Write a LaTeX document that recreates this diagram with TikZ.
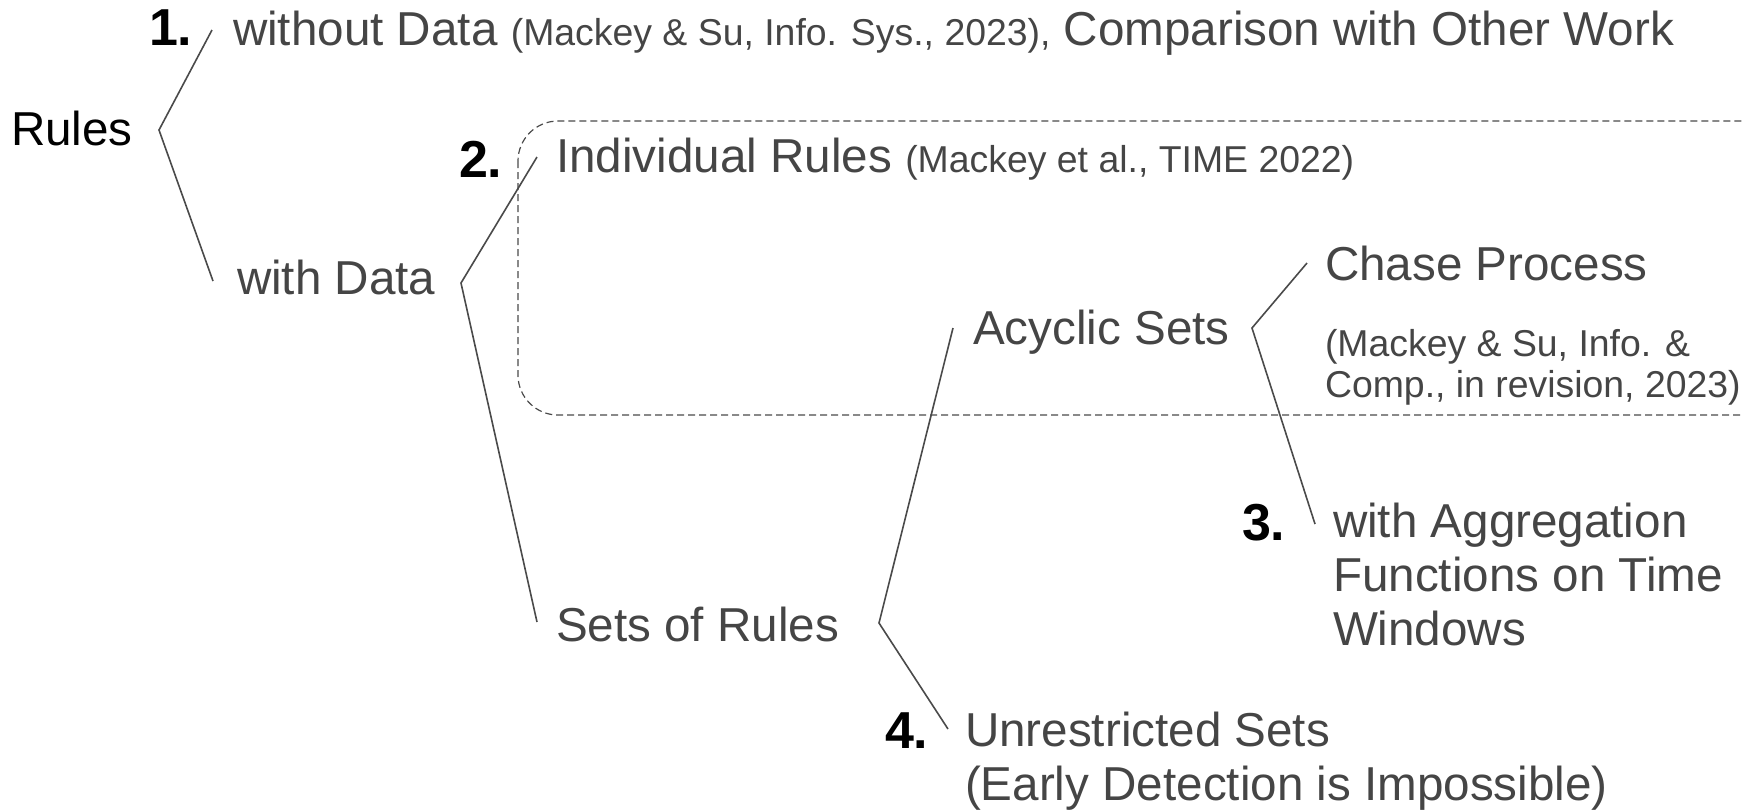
\documentclass[tikz,border=0pt]{standalone}
\usepackage{fontspec}
\setmainfont{Liberation Sans}
\usetikzlibrary{calc}
\definecolor{txtgray}{HTML}{454545}
\definecolor{linegray}{HTML}{4A4A4A}

\begin{document}
\begin{tikzpicture}[x=0.5pt, y=-0.5pt,
  big/.style={font=\fontsize{23.8}{27}\selectfont, text=txtgray, inner sep=0pt, outer sep=0pt, anchor=base west, align=left},
  small/.style={font=\fontsize{18.7}{20.5}\selectfont, text=txtgray, inner sep=0pt, outer sep=0pt, anchor=base west, align=left},
  num/.style={font=\fontsize{26}{28}\selectfont\bfseries, text=black, inner sep=0pt, outer sep=0pt, anchor=base west},
  branch/.style={draw=linegray, line width=0.8pt},
  group/.style={draw=linegray, line width=0.6pt, dash pattern=on 3.5pt off 2pt, rounded corners=20pt}
]
\useasboundingbox (0,0) rectangle (1742,811);
\clip (0,0) rectangle (1742,811);

% dashed frame around the rules whose detection is covered
\draw[group] (518,121) rectangle (1800,415);

% root
\node[big, text=black] (rules) at (11,145) {Rules};

% first level
\node[num] (n1) at (149,45) {1.};
\node[big] (nodata) at (233,45) {without Data {\fontsize{18.7}{20.5}\selectfont (Mackey \& Su, Info. Sys., 2023),} Comparison with Other Work};
\node[big] (withdata) at (237,294) {with Data};

% second level
\node[num] (n2) at (459,177) {2.};
\node[big] (indiv) at (556,172) {Individual Rules {\fontsize{18.7}{20.5}\selectfont (Mackey et al., TIME 2022)}};
\node[big] (sets) at (556,641) {Sets of Rules};

% third level (multi-line nodes sit on the baseline of their last line)
\node[big] (acyclic) at (973,344) {Acyclic Sets};
\node[num] (n4) at (885,748) {4.};
\node[big] (unres) at (965,800) {Unrestricted Sets\\(Early Detection is Impossible)};

% fourth level
\node[big] (chase) at (1325,280) {Chase Process};
\node[small] (chasecite) at (1325,397) {(Mackey \& Su, Info. \&\\Comp., in revision, 2023)};
\node[num] (n3) at (1242,540) {3.};
\node[big] (aggr) at (1333,645) {with Aggregation\\Functions on Time\\Windows};

% branching points and free ends of the brackets
\coordinate (f0) at (159,130);
\coordinate (f0a) at (212,30);
\coordinate (f0b) at (213,281);
\coordinate (f1) at (461,283);
\coordinate (f1a) at (537,157);
\coordinate (f1b) at (537,622);
\coordinate (f2) at (879,623);
\coordinate (f2a) at (953,328);
\coordinate (f2b) at (948,729);
\coordinate (f3) at (1252,328);
\coordinate (f3a) at (1307,263);
\coordinate (f3b) at (1315,524);

\draw[branch] (f0a) -- (f0) -- (f0b);
\draw[branch] (f1a) -- (f1) -- (f1b);
\draw[branch] (f2a) -- (f2) -- (f2b);
\draw[branch] (f3a) -- (f3) -- (f3b);
\end{tikzpicture}
\end{document}
